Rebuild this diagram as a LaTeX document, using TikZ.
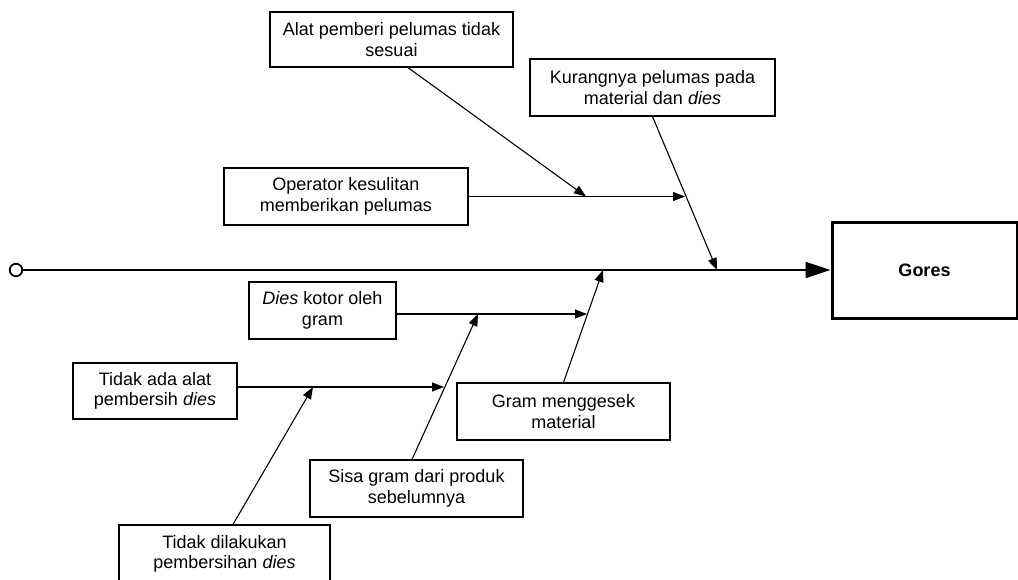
\documentclass[tikz,border=0pt]{standalone}
\usepackage{fontspec}
\setmainfont{Liberation Sans}
\usetikzlibrary{arrows.meta,calc}
\begin{document}
\begin{tikzpicture}[x=1pt,y=-1pt,
  cbox/.style={draw=black, line width=1.2pt, align=center, inner sep=0pt, font=\fontsize{18}{20.5}\selectfont},
  gbox/.style={draw=black, line width=3pt, align=center, inner sep=0pt, font=\bfseries\fontsize{18}{20.5}\selectfont},
  branch/.style={line width=1.1pt, -{Triangle[length=12pt,width=9pt]}},
  spine/.style={line width=2.2pt, -{Triangle[length=25pt,width=16pt]}},
  ]
\useasboundingbox (0,0) rectangle (1018,579);
\clip (0,0) rectangle (1018,579);

% boxes
\node[cbox, minimum width=243pt, minimum height=55pt] (A) at (391.5,39.5) {Alat pemberi pelumas tidak\\sesuai};
\node[cbox, minimum width=245pt, minimum height=57pt] (B) at (652.5,87.5) {Kurangnya pelumas pada\\material dan \textit{dies}};
\node[cbox, minimum width=244pt, minimum height=57pt] (Op) at (346,196.5) {Operator kesulitan\\memberikan pelumas};
\node[gbox, minimum width=185pt, minimum height=96pt] (G) at (924.5,270) {Gores};
\node[cbox, minimum width=147pt, minimum height=57pt] (D) at (322.5,310.5) {\textit{Dies} kotor oleh\\gram};
\node[cbox, minimum width=213pt, minimum height=57pt] (Gr) at (563.5,411.5) {Gram menggesek\\material};
\node[cbox, minimum width=164pt, minimum height=56pt] (T) at (155,391) {Tidak ada alat\\pembersih \textit{dies}};
\node[cbox, minimum width=213pt, minimum height=57pt] (S) at (416.5,488.5) {Sisa gram dari produk\\sebelumnya};
\node[cbox, minimum width=211pt, minimum height=58pt] (TD) at (224.5,554) {Tidak dilakukan\\pembersihan \textit{dies}};

% tail circle
\node[circle, draw=black, line width=1.8pt, minimum size=12.5pt, inner sep=0pt] (O) at (16,270) {};

% junction points
\coordinate (jB) at (717,270);
\coordinate (jGr) at (603,270);
\coordinate (jOp) at (685,196.5);
\coordinate (jA) at (586,196.5);
\coordinate (jD) at (587,314);
\coordinate (jS) at (478,314);
\coordinate (jT) at (444,387);
\coordinate (jTD) at (313,387);

% spine
\draw[spine] (O.east) -- (G.west);

% branches
\draw[branch] (B.south) -- (jB);
\draw[branch] (Op.east) -- (jOp);
\draw[branch] ([xshift=16.5pt]A.south) -- (jA);
\draw[branch] (Gr.north) -- (jGr);
\draw[branch] (D.east |- jD) -- (jD);
\draw[branch] ([xshift=-4.5pt]S.north) -- (jS);
\draw[branch] (T.east |- jT) -- (jT);
\draw[branch] ([xshift=8.5pt]TD.north) -- (jTD);
\end{tikzpicture}
\end{document}
